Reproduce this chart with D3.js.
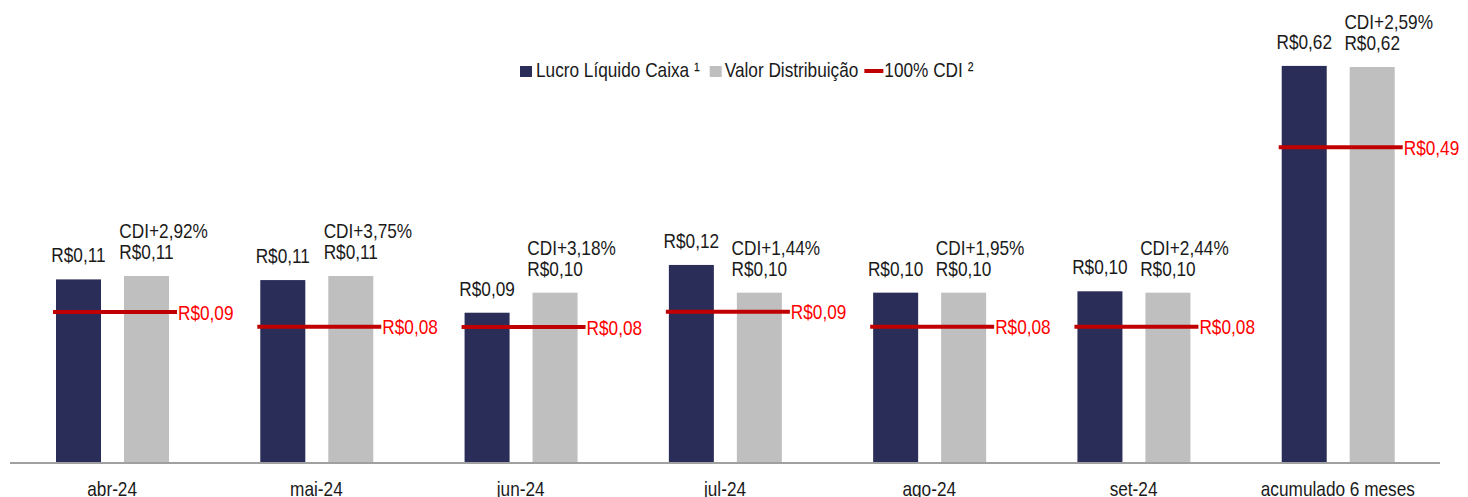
<!DOCTYPE html>
<meta charset="utf-8">
<svg width="1468" height="497"></svg>
<script src="https://d3js.org/d3.v7.min.js"></script>
<style>
    body {
        margin: 0;
        background: #fff;
    }

    text {
        font-family: "Liberation Sans", Arial, sans-serif;
        font-size: 21px;
        fill: #1a1a1a;
    }
</style>
<script>
    // valores por mês (R$ por cota)
    var categories = ["abr-24", "mai-24", "jun-24", "jul-24", "ago-24", "set-24", "acumulado 6 meses"];
    var lucro = [0.108, 0.1076, 0.0884, 0.1165, 0.1002, 0.101, 0.6217];
    var distrib = [0.110, 0.110, 0.1002, 0.1002, 0.1002, 0.1002, 0.620];
    var cdi100 = [0.0888, 0.0802, 0.0800, 0.0890, 0.0802, 0.0802, 0.4945];
    var spread = ["CDI+2,92%", "CDI+3,75%", "CDI+3,18%", "CDI+1,44%", "CDI+1,95%", "CDI+2,44%", "CDI+2,59%"];
    var legendNames = ["Lucro Líquido Caixa ¹", "Valor Distribuição", "100% CDI ²"];

    var colDark = "#2b2d59", colGrey = "#bfbfbf", colRed = "#c00000";

    var svg = d3.select("svg"),
        baseY = 463;

    // sem Arial Narrow aqui: comprime o texto na horizontal
    function narrow(sel) {
        sel.each(function () {
            var w = this.getComputedTextLength();
            d3.select(this).attr("textLength", w * 0.82).attr("lengthAdjust", "spacingAndGlyphs");
        });
        return sel;
    }

    var data = categories.map(function (c, i) {
        return { cat: c, lucro: lucro[i], distrib: distrib[i], cdi: cdi100[i], spread: spread[i], acc: i == categories.length - 1 };
    });

    var x0 = d3.scaleBand().domain(categories).range([10, 1440]);
    var x1 = d3.scaleBand().domain(["lucro", "distrib"]).range([46, 159]).paddingInner(0.338).paddingOuter(0);

    // mensal e acumulado em escalas separadas
    var yM = d3.scaleLinear().domain([0, 0.2]).range([baseY, baseY - 340]);
    var yA = d3.scaleLinear().domain([0, 0.62]).range([baseY, baseY - 396]);
    function y(d, v) { return d.acc ? yA(v) : yM(v); }

    function fmt(v) { return "R$" + v.toFixed(2).replace(".", ","); }

    var g = svg.selectAll(".grp").data(data).enter().append("g")
        .attr("class", "grp")
        .attr("transform", function (d) { return "translate(" + x0(d.cat) + ",0)"; });

    g.append("rect")
        .attr("x", x1("lucro"))
        .attr("width", x1.bandwidth())
        .attr("y", function (d) { return y(d, d.lucro); })
        .attr("height", function (d) { return baseY - y(d, d.lucro); })
        .attr("fill", colDark);

    g.append("rect")
        .attr("x", x1("distrib"))
        .attr("width", x1.bandwidth())
        .attr("y", function (d) { return y(d, d.distrib); })
        .attr("height", function (d) { return baseY - y(d, d.distrib); })
        .attr("fill", colGrey);

    var lineEnd = x1("distrib") + x1.bandwidth() + 8;
    g.append("line")
        .attr("x1", x1("lucro") - 3)
        .attr("x2", lineEnd)
        .attr("y1", function (d) { return y(d, d.cdi); })
        .attr("y2", function (d) { return y(d, d.cdi); })
        .attr("stroke", colRed)
        .attr("stroke-width", 4);

    g.append("text")
        .attr("x", lineEnd + 1)
        .attr("y", function (d) { return y(d, d.cdi); })
        .attr("dy", "0.36em")
        .style("fill", "#ff0000")
        .text(function (d) { return fmt(d.cdi); })
        .call(narrow);

    g.append("text")
        .attr("x", x1("lucro") + x1.bandwidth() / 2)
        .attr("y", function (d) { return y(d, d.lucro) - 17; })
        .attr("text-anchor", "middle")
        .text(function (d) { return fmt(d.lucro); })
        .call(narrow);

    var dl = g.append("text")
        .attr("x", x1("distrib") + x1.bandwidth() / 2)
        .attr("y", function (d) { return y(d, d.distrib) - 17; })
        .attr("text-anchor", "middle")
        .text(function (d) { return fmt(d.distrib); })
        .call(narrow);

    // linha do spread alinhada à esquerda com o rótulo de distribuição
    g.append("text")
        .attr("y", function (d) { return y(d, d.distrib) - 38; })
        .attr("x", function (d, i) {
            var w = dl.nodes()[i].getComputedTextLength();
            return x1("distrib") + x1.bandwidth() / 2 - w / 2;
        })
        .text(function (d) { return d.spread; })
        .call(narrow);

    // eixo x
    svg.append("line")
        .attr("x1", 10).attr("x2", 1440)
        .attr("y1", baseY).attr("y2", baseY)
        .attr("stroke", "#a0a0a0")
        .attr("stroke-width", 2);

    svg.selectAll(".cat").data(categories).enter().append("text")
        .attr("class", "cat")
        .attr("x", function (d) { return x0(d) + x0.bandwidth() / 2; })
        .attr("y", 496)
        .attr("text-anchor", "middle")
        .text(function (d) { return d; })
        .call(narrow);

    // legenda
    var leg = svg.append("g"), lx = 520, ly = 77;
    leg.append("rect").attr("x", lx).attr("y", ly - 11).attr("width", 12).attr("height", 11).attr("fill", colDark);
    var t1 = leg.append("text").attr("x", lx + 16).attr("y", ly).text(legendNames[0]).call(narrow);
    lx = lx + 16 + t1.node().getComputedTextLength() + 10;
    leg.append("rect").attr("x", lx).attr("y", ly - 11).attr("width", 12).attr("height", 11).attr("fill", colGrey);
    var t2 = leg.append("text").attr("x", lx + 15).attr("y", ly).text(legendNames[1]).call(narrow);
    lx = lx + 15 + t2.node().getComputedTextLength() + 6;
    leg.append("line").attr("x1", lx).attr("x2", lx + 19).attr("y1", ly - 6).attr("y2", ly - 6)
        .attr("stroke", colRed).attr("stroke-width", 4);
    leg.append("text").attr("x", lx + 20).attr("y", ly).text(legendNames[2]).call(narrow);
</script>
